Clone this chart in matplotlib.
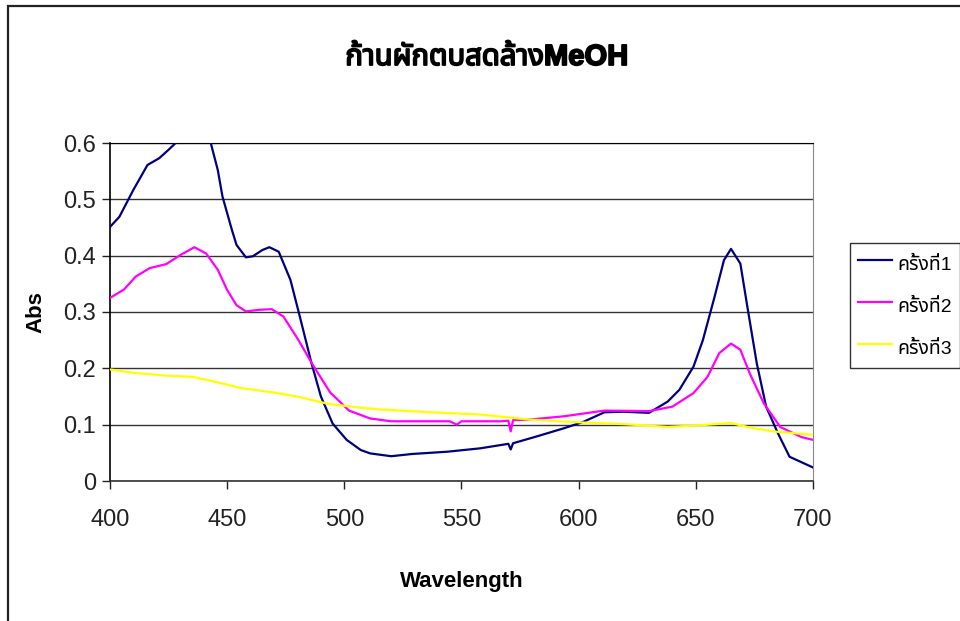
import matplotlib
matplotlib.use("Agg")
import matplotlib.pyplot as plt
import matplotlib.patheffects as pe
from matplotlib.patches import Rectangle

# Arial-like face for latin text, Thai glyphs fall back to Noto Sans Thai
plt.rcParams['font.family'] = ['Liberation Sans', 'Noto Sans Thai', 'DejaVu Sans']

# ============================================
# DATA
# ============================================

title_text = "ก้านผักตบสดล้างMeOH"
series_names = ["ครั้งที่1", "ครั้งที่2", "ครั้งที่3"]
series_colors = ["#000080", "#FF00FF", "#FFFF00"]

wl_1 = [400, 404, 410, 416, 421, 425, 428, 432, 436, 440, 443, 446, 448, 452, 454, 458,
        461, 465, 468, 472, 477, 481, 486, 490, 495, 501, 507, 511, 520, 529, 544, 558,
        570, 571, 572, 582, 594, 602, 611, 619, 630, 638, 643, 649, 653, 658, 662, 665,
        669, 672, 676, 680, 685, 690, 700]
abs_1 = [0.451, 0.469, 0.517, 0.561, 0.573, 0.588, 0.600, 0.625, 0.635, 0.625, 0.600, 0.552,
         0.505, 0.446, 0.419, 0.397, 0.399, 0.410, 0.415, 0.407, 0.357, 0.292, 0.209, 0.150,
         0.102, 0.073, 0.055, 0.049, 0.044, 0.048, 0.052, 0.058, 0.066, 0.056, 0.067, 0.079,
         0.094, 0.105, 0.122, 0.123, 0.121, 0.141, 0.162, 0.203, 0.250, 0.327, 0.392, 0.412,
         0.386, 0.309, 0.209, 0.132, 0.085, 0.043, 0.024]

wl_2 = [400, 406, 411, 417, 424, 430, 436, 441, 446, 450, 454, 458, 464, 469, 474, 480,
        487, 494, 502, 511, 520, 545, 548, 550, 567, 570, 571, 572, 579, 594, 611, 630,
        640, 649, 655, 660, 665, 669, 673, 679, 686, 695, 700]
abs_2 = [0.325, 0.340, 0.363, 0.378, 0.385, 0.401, 0.415, 0.404, 0.375, 0.339, 0.312, 0.301,
         0.304, 0.305, 0.292, 0.253, 0.203, 0.157, 0.125, 0.111, 0.106, 0.106, 0.100, 0.106,
         0.106, 0.107, 0.088, 0.108, 0.109, 0.115, 0.125, 0.124, 0.132, 0.156, 0.185, 0.227,
         0.244, 0.233, 0.191, 0.138, 0.096, 0.078, 0.073]

wl_3 = [400, 410, 424, 435, 443, 456, 470, 481, 493, 507, 515, 537, 558, 579, 601, 619,
        638, 652, 665, 673, 683, 700]
abs_3 = [0.198, 0.192, 0.187, 0.185, 0.178, 0.165, 0.157, 0.149, 0.137, 0.130, 0.127, 0.122,
         0.118, 0.109, 0.104, 0.101, 0.096, 0.099, 0.103, 0.095, 0.088, 0.082]

x_ticks = [400, 450, 500, 550, 600, 650, 700]
y_ticks = [0, 0.1, 0.2, 0.3, 0.4, 0.5, 0.6]
y_tick_labels = ["0", "0.1", "0.2", "0.3", "0.4", "0.5", "0.6"]

# ============================================
# PLOT
# ============================================

fig = plt.figure(figsize=(9.6, 6.21), dpi=100)
ax = fig.add_axes([110 / 960, 1 - 481 / 621, 703 / 960, 338 / 621])

for wl, ab, name, color in zip([wl_1, wl_2, wl_3], [abs_1, abs_2, abs_3], series_names, series_colors):
    ax.plot(wl, ab, color=color, lw=1.6, label=name, zorder=3)

ax.set_xlim(400, 700)
ax.set_ylim(0, 0.6)
ax.set_xticks(x_ticks)
ax.set_yticks(y_ticks)
ax.set_yticklabels(y_tick_labels)
ax.tick_params(axis='both', labelsize=17, direction='out', length=6, width=1, colors='#222222')
ax.tick_params(axis='x', pad=14)
ax.tick_params(axis='y', pad=4)

ax.grid(axis='y', color='#333333', lw=1, zorder=1)
ax.grid(axis='x', visible=False)
ax.spines['left'].set_color('black')
ax.spines['left'].set_linewidth(1.2)
ax.spines['bottom'].set_color('#333333')
ax.spines['bottom'].set_linewidth(1.2)
ax.spines['top'].set_color('black')
ax.spines['right'].set_color('#888888')

ax.set_xlabel("Wavelength", fontsize=16, fontweight='bold', labelpad=29)
ax.set_ylabel("Abs", fontsize=16, fontweight='bold', labelpad=12)

# Thai face has no bold cut, so thicken the title with a stroke
fig.text(487 / 960, 1 - 57 / 621, title_text, ha='center', va='center',
         fontsize=21, fontweight='bold',
         path_effects=[pe.withStroke(linewidth=1.3, foreground='black')])

leg = fig.legend(loc='upper left', bbox_to_anchor=(850 / 960, 1 - 243 / 621),
                 fontsize=14, frameon=True, fancybox=False, borderpad=0.4,
                 handlelength=1.75, handleheight=1.6, handletextpad=0.3,
                 labelspacing=0.88, borderaxespad=0)
leg.get_frame().set_edgecolor('black')
leg.get_frame().set_linewidth(1.0)

# outer chart frame
fig.patches.append(Rectangle((8 / 960, -0.1), 1.2, 1.1 - 6 / 621, transform=fig.transFigure,
                             fill=False, edgecolor='#222222', lw=1.6))

fig.savefig("out.png", dpi=100)
